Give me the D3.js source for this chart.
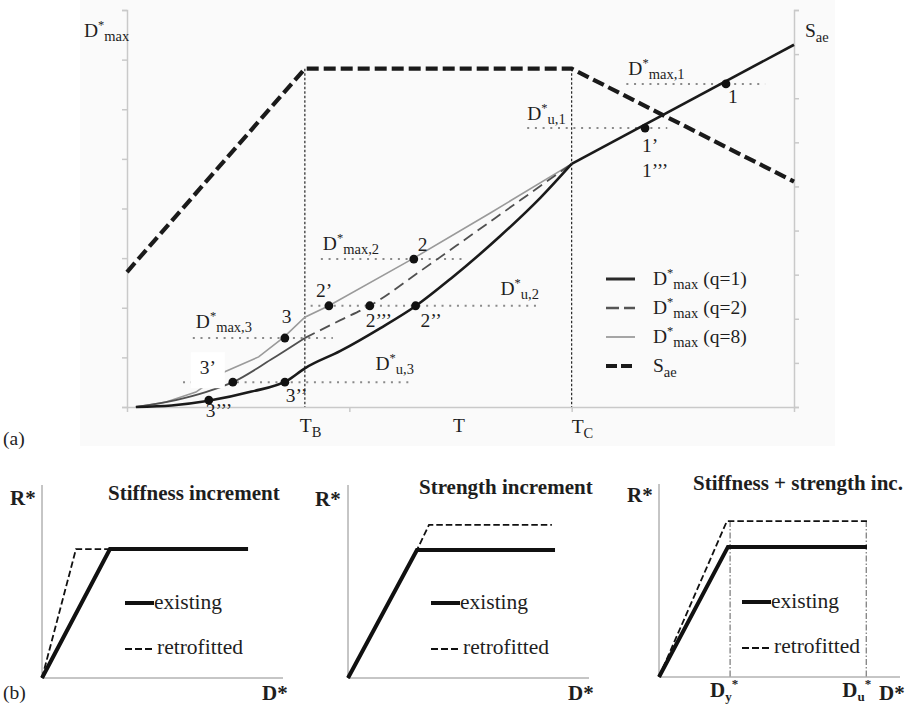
<!DOCTYPE html>
<meta charset="utf-8">
<html>
<head>
<style>
  body { margin: 0; background: #fff; }
  svg text { font-family: "Liberation Serif", "Times New Roman", serif; fill: #1e1e1e; }
</style>
</head>
<body>
<script src="https://d3js.org/d3.v7.min.js"></script>
<div id="chart"></div>
<script>

// ---- data (a): spectrum and displacement demand ----
var T_B = 0.4, T_C = 1.0;
var saeT = [0, 0.4, 1.0, 1.5];
var saeS = [3.06, 7.67, 7.67, 5.11];

var q1T = [0.02, 0.1, 0.18, 0.28, 0.36, 0.4, 0.48, 0.57, 0.65, 0.73, 0.84, 0.93, 1.0, 1.5];
var q1D = [0, 0.03, 0.12, 0.31, 0.53, 0.78, 1.13, 1.59, 2.04, 2.6, 3.45, 4.22, 4.9, 7.3];

var q2T = [0.02, 0.11, 0.177, 0.238, 0.323, 0.4, 0.48, 0.546, 0.66, 0.772, 0.885, 1.0];
var q2D = [0, 0.14, 0.3, 0.5, 0.95, 1.39, 1.75, 2.04, 2.74, 3.45, 4.17, 4.9];

var q8T = [0.02, 0.088, 0.155, 0.22, 0.296, 0.353, 0.4, 0.454, 0.645, 0.817, 1.0];
var q8D = [0, 0.1, 0.3, 0.71, 1.01, 1.41, 1.81, 2.04, 3.0, 3.91, 4.9];

// dotted demand levels: name, level, T range
var levelNames = ["max,1", "u,1", "max,2", "u,2", "max,3", "u,3"];
var levelD = [6.51, 5.62, 2.98, 2.04, 1.39, 0.5];
var levelT0 = [1.123, 0.9, 0.436, 0.413, 0.148, 0.126];
var levelT1 = [1.435, 1.215, 0.755, 0.923, 0.463, 0.633];

// marked points
var pointNames = ["1", "1’", "2", "2’", "2’’’", "2’’", "3", "3’", "3’’", "3’’’"];
var pointT = [1.347, 1.165, 0.645, 0.454, 0.546, 0.649, 0.355, 0.238, 0.355, 0.184];
var pointD = [6.51, 5.62, 2.98, 2.04, 2.04, 2.04, 1.39, 0.5, 0.5, 0.14];

var xTicks = [0, 0.5, 1.0, 1.5];
var leftTicks = d3.range(0, 9);
var rightTicks = d3.range(0, 10);

var legendNames = ["(q=1)", "(q=2)", "(q=8)", ""];

// ---- data (b): capacity curves ----
var panelTitles = ["Stiffness increment", "Strength increment", "Stiffness + strength inc."];
var existD = [[0, 2.82, 8.55], [0, 2.86, 8.59], [0, 2.86, 8.63]];
var existR = [[0, 6.68, 6.68], [0, 6.63, 6.63], [0, 6.74, 6.74]];
var retroD = [[0, 1.41, 2.82], [0, 2.86, 3.36, 8.46], [0, 2.82, 8.63]];
var retroR = [[0, 6.68, 6.68], [0, 6.63, 7.93, 7.93], [0, 8.08, 8.08]];
var markD = [2.95, 8.6]; // D_y*, D_u* in the last panel
var markNames = ["y", "u"];

var width = 911, height = 708;
var svg = d3.select("#chart").append("svg")
    .attr("width", width)
    .attr("height", height)
    .style("font-family", '"Liberation Serif", "Times New Roman", serif');

// label like D*_sub (optionally followed by text on the baseline)
function starLabel(g, x, y, main, sub, tail) {
  var t = g.append("text").attr("x", x).attr("y", y).style("font-size", "19.5px");
  t.append("tspan").text(main);
  t.append("tspan").attr("dy", -8).style("font-size", "12.5px").text("*");
  t.append("tspan").attr("dy", 12).style("font-size", "14.5px").text(sub);
  if (tail) t.append("tspan").attr("dy", -4).text(tail);
  return t;
}
function subLabel(g, x, y, main, sub) {
  var t = g.append("text").attr("x", x).attr("y", y).style("font-size", "19.5px");
  t.append("tspan").text(main);
  t.append("tspan").attr("dy", 5).style("font-size", "14.5px").text(sub);
  return t;
}

// ================= (a) =================
var gA = svg.append("g");

gA.append("rect")
    .attr("x", 80).attr("y", 0)
    .attr("width", 755).attr("height", 446)
    .attr("fill", "#fafafa");

var x = d3.scaleLinear().domain([0, 1.5]).range([127, 794]);
var yL = d3.scaleLinear().domain([0, 8]).range([407, 10]);
var yR = d3.scaleLinear().domain([0, 9]).range([407, 10]);

var axisColor = "#c9c9c9";

// axes
gA.append("g")
    .attr("transform", "translate(" + x(0) + ",0)")
    .call(d3.axisLeft(yL).tickValues(leftTicks).tickSize(5).tickFormat(""))
    .call(function(g) { g.selectAll("line, path").attr("stroke", axisColor).attr("stroke-width", 1.5); });

gA.append("g")
    .attr("transform", "translate(" + x(1.5) + ",0)")
    .call(d3.axisRight(yR).tickValues(rightTicks).tickSize(5).tickFormat(""))
    .call(function(g) { g.selectAll("line, path").attr("stroke", axisColor).attr("stroke-width", 1.5); });

gA.append("g")
    .attr("transform", "translate(0," + yL(0) + ")")
    .call(d3.axisBottom(x).tickValues(xTicks).tickSize(5).tickSizeOuter(0).tickFormat(""))
    .call(function(g) { g.selectAll("line, path").attr("stroke", axisColor).attr("stroke-width", 1.5); });

// T_B / T_C markers
[T_B, T_C].forEach(function(t) {
  gA.append("line")
      .attr("x1", x(t)).attr("x2", x(t))
      .attr("y1", yR(7.67)).attr("y2", yL(0))
      .attr("stroke", "#111").attr("stroke-width", 1.1)
      .attr("stroke-dasharray", "2.5,2");
});

// dotted levels
levelD.forEach(function(d, i) {
  gA.append("line")
      .attr("x1", x(levelT0[i])).attr("x2", x(levelT1[i]))
      .attr("y1", yL(d)).attr("y2", yL(d))
      .attr("stroke", "#8a8a8a").attr("stroke-width", 2)
      .attr("stroke-dasharray", "2,5.7");
});

var lineL = d3.line().x(function(d) { return x(d[0]); }).y(function(d) { return yL(d[1]); });
var smoothL = d3.line().curve(d3.curveMonotoneX)
    .x(function(d) { return x(d[0]); }).y(function(d) { return yL(d[1]); });
var lineR = d3.line().x(function(d) { return x(d[0]); }).y(function(d) { return yR(d[1]); });

var q8 = d3.zip(q8T, q8D);
var q2 = d3.zip(q2T, q2D);
var q1 = d3.zip(q1T, q1D);

gA.append("path").attr("d", lineL(q8))
    .attr("fill", "none").attr("stroke", "#9a9a9a").attr("stroke-width", 1.6);

// q=2: solid below T_B, dashed above
gA.append("path").attr("d", smoothL(q2.filter(function(d) { return d[0] <= T_B; })))
    .attr("fill", "none").attr("stroke", "#505050").attr("stroke-width", 1.8);
gA.append("path").attr("d", smoothL(q2.filter(function(d) { return d[0] >= T_B; })))
    .attr("fill", "none").attr("stroke", "#505050").attr("stroke-width", 1.8)
    .attr("stroke-dasharray", "11,6");

gA.append("path").attr("d", smoothL(q1.filter(function(d) { return d[0] <= T_C; })))
    .attr("fill", "none").attr("stroke", "#1a1a1a").attr("stroke-width", 2.6);
gA.append("path").attr("d", lineL(q1.filter(function(d) { return d[0] >= T_C; })))
    .attr("fill", "none").attr("stroke", "#1a1a1a").attr("stroke-width", 2.6);

gA.append("path").attr("d", lineR(d3.zip(saeT, saeS)))
    .attr("fill", "none").attr("stroke", "#1a1a1a").attr("stroke-width", 4.2)
    .attr("stroke-dasharray", "12,5");

// white patch behind 3' label
var p3 = pointNames.indexOf("3’");
gA.append("rect")
    .attr("x", x(pointT[p3]) - 42).attr("y", yL(pointD[p3]) - 30)
    .attr("width", 34).attr("height", 36)
    .attr("fill", "#fff");

// points
gA.selectAll("circle.pt")
    .data(d3.range(pointNames.length))
    .enter().append("circle")
      .attr("class", "pt")
      .attr("cx", function(i) { return x(pointT[i]); })
      .attr("cy", function(i) { return yL(pointD[i]); })
      .attr("r", 4.4)
      .attr("fill", "#111");

// point labels (offsets from their point)
var pointLabelOffset = [[2, 19], [-3, 24], [4, -8], [-13, -9], [-4, 21], [5, 21], [-3, -15], [-33, -8], [1, 20], [-3, 17]];
pointNames.forEach(function(n, i) {
  gA.append("text")
      .attr("x", x(pointT[i]) + pointLabelOffset[i][0])
      .attr("y", yL(pointD[i]) + pointLabelOffset[i][1])
      .style("font-size", "19.5px")
      .text(n);
});
// 1''' sits under 1'
var p1 = pointNames.indexOf("1’");
gA.append("text")
    .attr("x", x(pointT[p1]) - 3).attr("y", yL(pointD[p1]) + 49)
    .style("font-size", "19.5px").text("1’’’");

// level labels: anchored at start (s) or end (e) of dotted line
var levelLabelPos = [["s", 2, -9], ["s", 0, -8], ["s", 2, -9], ["e", -37, -11], ["s", 3, -10], ["e", -33, -12]];
levelNames.forEach(function(n, i) {
  var p = levelLabelPos[i];
  var bx = p[0] === "s" ? x(levelT0[i]) : x(levelT1[i]);
  starLabel(gA, bx + p[1], yL(levelD[i]) + p[2], "D", n);
});

// axis titles
starLabel(gA, 84, 37, "D", "max");
subLabel(gA, 805, 37, "S", "ae");
subLabel(gA, x(T_B) - 5, 432, "T", "B");
gA.append("text").attr("x", 453).attr("y", 432).style("font-size", "19.5px").text("T");
subLabel(gA, x(T_C), 433, "T", "C");
gA.append("text").attr("x", 3).attr("y", 445).style("font-size", "19.5px").text("(a)");

// legend
var legStyles = [
  {stroke: "#2a2a2a", w: 3, dash: null},
  {stroke: "#555", w: 2.5, dash: "13,5"},
  {stroke: "#a5a5a5", w: 2, dash: null},
  {stroke: "#1a1a1a", w: 4, dash: "11,4"}
];
legendNames.forEach(function(n, i) {
  var ly = 279 + i * 29;
  var s = legStyles[i];
  gA.append("line")
      .attr("x1", 606).attr("x2", 635)
      .attr("y1", ly).attr("y2", ly)
      .attr("stroke", s.stroke).attr("stroke-width", s.w)
      .attr("stroke-dasharray", s.dash);
  if (i < 3) starLabel(gA, 653, ly + 6, "D", "max", " " + n);
  else subLabel(gA, 653, ly + 6, "S", "ae");
});

// ================= (b) =================
var panelOrigin = [[42, 678], [348, 678], [659, 677]];
var titlePos = [[108, 500], [419, 494], [693, 490]];
var rPos = [[10, 505], [315, 506], [627, 502]];
var markLabelShift = [-20, -24];
var pw = 241, ph = 193;

svg.append("text").attr("x", 3).attr("y", 699).style("font-size", "19.5px").text("(b)");

panelTitles.forEach(function(title, k) {
  var ox = panelOrigin[k][0], oy = panelOrigin[k][1];
  var px = d3.scaleLinear().domain([0, 10]).range([ox, ox + pw]);
  var py = d3.scaleLinear().domain([0, 10]).range([oy, oy - ph]);
  var g = svg.append("g");
  var ln = d3.line().x(function(d) { return px(d[0]); }).y(function(d) { return py(d[1]); });

  // axes
  g.append("line").attr("x1", px(0)).attr("x2", px(0)).attr("y1", py(0)).attr("y2", py(10))
      .attr("stroke", "#8c8c8c").attr("stroke-width", 1);
  g.append("line").attr("x1", px(0)).attr("x2", px(10)).attr("y1", py(0)).attr("y2", py(0))
      .attr("stroke", "#8c8c8c").attr("stroke-width", 1);

  if (k === 2) {
    markD.forEach(function(m) {
      g.append("line")
          .attr("x1", px(m)).attr("x2", px(m))
          .attr("y1", py(retroR[k][1])).attr("y2", py(0))
          .attr("stroke", "#777").attr("stroke-width", 1.2)
          .attr("stroke-dasharray", "6,2,1.5,2");
    });
  }

  g.append("path").attr("d", ln(d3.zip(existD[k], existR[k])))
      .attr("fill", "none").attr("stroke", "#111").attr("stroke-width", 4);
  g.append("path").attr("d", ln(d3.zip(retroD[k], retroR[k])))
      .attr("fill", "none").attr("stroke", "#111").attr("stroke-width", 1.8)
      .attr("stroke-dasharray", "6.5,3");

  // legend
  g.append("line").attr("x1", ox + 83).attr("x2", ox + 112).attr("y1", oy - 75).attr("y2", oy - 75)
      .attr("stroke", "#111").attr("stroke-width", 4);
  g.append("text").attr("x", ox + 112).attr("y", oy - 69).style("font-size", "21.5px").text("existing");
  g.append("line").attr("x1", ox + 83).attr("x2", ox + 112).attr("y1", oy - 29).attr("y2", oy - 29)
      .attr("stroke", "#111").attr("stroke-width", 1.8).attr("stroke-dasharray", "7,3");
  g.append("text").attr("x", ox + 115).attr("y", oy - 24).style("font-size", "21.5px").text("retrofitted");

  g.append("text").attr("x", titlePos[k][0]).attr("y", titlePos[k][1])
      .style("font-size", "21px").style("font-weight", "bold").text(title);
  g.append("text").attr("x", rPos[k][0]).attr("y", rPos[k][1])
      .style("font-size", "21px").style("font-weight", "bold").text("R*");
  g.append("text").attr("x", ox + 220).attr("y", 700)
      .style("font-size", "21px").style("font-weight", "bold").text("D*");

  if (k === 2) {
    markD.forEach(function(m, j) {
      var t = g.append("text").attr("x", px(m) + markLabelShift[j]).attr("y", 697)
          .style("font-size", "21px").style("font-weight", "bold");
      t.append("tspan").text("D");
      t.append("tspan").attr("dy", 4).style("font-size", "13px").text(markNames[j]);
      t.append("tspan").attr("dy", -13).style("font-size", "13px").text("*");
    });
  }
});

</script>
</body>
</html>
